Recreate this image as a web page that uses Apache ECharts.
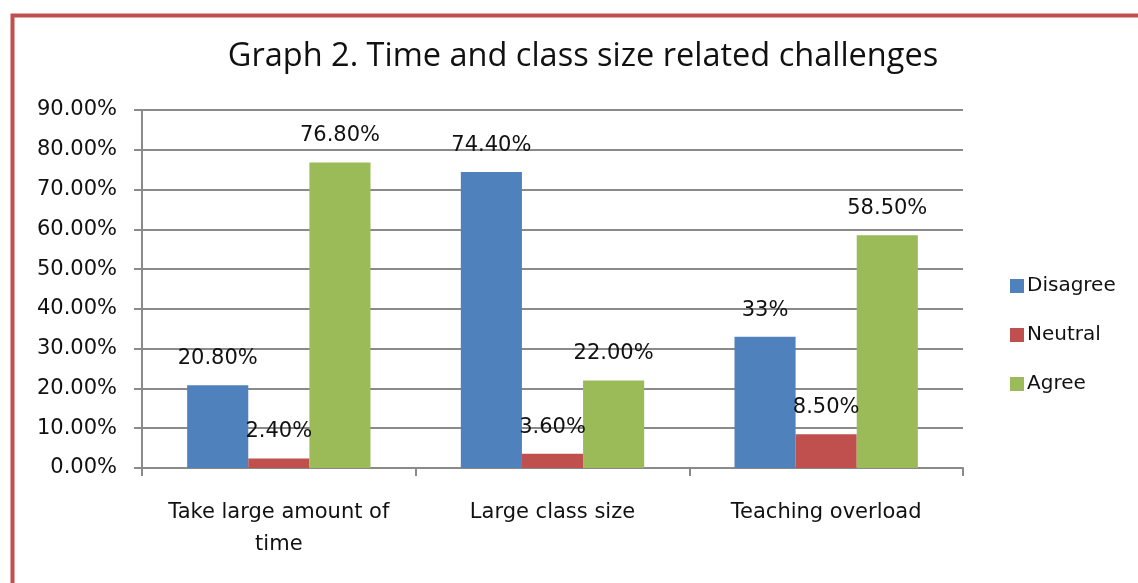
<!DOCTYPE html>
<html><head><meta charset="utf-8">
<script src="https://cdn.jsdelivr.net/npm/echarts@6/dist/echarts.min.js"></script>
<style>html,body{margin:0;padding:0;background:#fff}#c{width:1138px;height:583px}</style>
</head><body><div id="c"></div>
<script>
const categories = ['Take large amount of\ntime', 'Large class size', 'Teaching overload'];
const seriesNames = ['Disagree', 'Neutral', 'Agree'];
const disagree = [20.8, 74.4, 33];
const neutral = [2.4, 3.6, 8.5];
const agree = [76.8, 22.0, 58.5];
const disagreeLabels = ['20.80%', '74.40%', '33%'];
const neutralLabels = ['2.40%', '3.60%', '8.50%'];
const agreeLabels = ['76.80%', '22.00%', '58.50%'];
const colors = ['#4F81BD', '#C0504D', '#9BBB59'];

const chart = echarts.init(document.getElementById('c'));
function mk(name, data, labels, color) {
  return {
    name, type: 'bar', data, barGap: '0%', barCategoryGap: '33%',
    itemStyle: { color },
    label: { show: true, position: 'top', distance: 16, color: '#111',
      fontFamily: 'DejaVu Sans', fontSize: 21,
      formatter: p => labels[p.dataIndex] }
  };
}
chart.setOption({
  animation: false,
  title: { text: 'Graph 2. Time and class size related challenges', left: 578, top: 35, textAlign: 'center',
    textStyle: { fontFamily: 'Open Sans', fontSize: 32.5, fontWeight: 'normal', color: '#111' } },
  legend: { orient: 'vertical', left: 1005, top: 271, itemWidth: 14, itemHeight: 14, itemGap: 29,
    icon: 'rect', textStyle: { fontFamily: 'DejaVu Sans', fontSize: 20, color: '#111', padding: [0,0,0,-2] },
    data: seriesNames },
  grid: { left: 142, right: 175, top: 110, bottom: 115 },
  xAxis: { type: 'category', data: categories,
    axisLine: { lineStyle: { color: '#8a8a8a', width: 2 } },
    axisTick: { show: true, interval: 0, length: 8, lineStyle: { color: '#8a8a8a', width: 2 } },
    axisLabel: { interval: 0, fontFamily: 'DejaVu Sans', fontSize: 21, color: '#111', margin: 29, lineHeight: 32 } },
  yAxis: { type: 'value', min: 0, max: 90, interval: 10,
    axisLine: { show: true, lineStyle: { color: '#8a8a8a', width: 2 } },
    axisTick: { show: true, length: 8, lineStyle: { color: '#8a8a8a', width: 2 } },
    splitLine: { lineStyle: { color: '#8a8a8a', width: 2 } },
    axisLabel: { fontFamily: 'DejaVu Sans', fontSize: 21, color: '#111', margin: 25,
      formatter: v => v.toFixed(2) + '%' } },
  graphic: [{ type: 'rect', left: 10, top: 13, shape: { width: 1200, height: 700 },
    style: { fill: 'none', stroke: '#c0504d', lineWidth: 4 } }],
  series: [mk(seriesNames[0], disagree, disagreeLabels, colors[0]),
           mk(seriesNames[1], neutral, neutralLabels, colors[1]),
           mk(seriesNames[2], agree, agreeLabels, colors[2])]
});
</script></body></html>
